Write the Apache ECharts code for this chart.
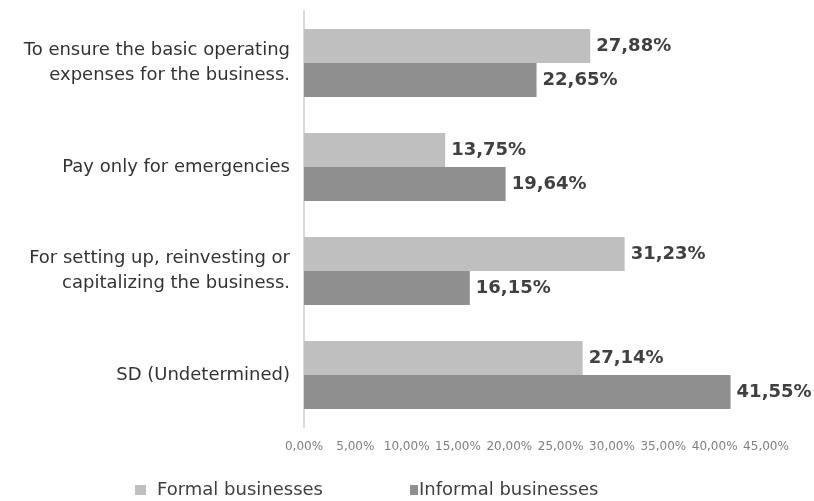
<!DOCTYPE html>
<html>
<head>
<meta charset="utf-8">
<script src="https://cdn.jsdelivr.net/npm/echarts@6/dist/echarts.min.js"></script>
<style>
  html, body { margin: 0; padding: 0; background: #fff; }
  #chart { width: 814px; height: 501px; }
</style>
</head>
<body>
<div id="chart"></div>
<script>
// Uses of the business's funds, by formality of the business (%)
const categories = [
  'To ensure the basic operating\nexpenses for the business.',
  'Pay only for emergencies',
  'For setting up, reinvesting or\ncapitalizing the business.',
  'SD (Undetermined)'
];
const formalValues = [27.88, 13.75, 31.23, 27.14];
const informalValues = [22.65, 19.64, 16.15, 41.55];
const seriesNames = ['Formal businesses', 'Informal businesses'];
const axisMax = 45;
const axisStep = 5;

const FONT = "'DejaVu Sans', 'Open Sans', sans-serif";
const pct = v => v.toFixed(2).replace('.', ',') + '%';

const chart = echarts.init(document.getElementById('chart'), null, { renderer: 'canvas' });

const valueLabel = {
  show: true,
  position: 'right',
  distance: 6,
  formatter: p => pct(p.value),
  fontFamily: FONT,
  fontWeight: 'bold',
  fontSize: 18,
  color: '#404040'
};

chart.setOption({
  animation: false,
  backgroundColor: '#ffffff',
  grid: { left: 304, top: 11, width: 462, height: 416, containLabel: false },
  legend: [
    {
      data: [seriesNames[0]],
      left: 130, top: 476,
      itemWidth: 11, itemHeight: 10, itemGap: 0,
      icon: 'rect',
      textStyle: { fontFamily: FONT, fontSize: 18, color: '#404040', padding: [0, 0, 0, 6] }
    },
    {
      data: [seriesNames[1]],
      left: 405, top: 476,
      itemWidth: 8, itemHeight: 10, itemGap: 0,
      icon: 'rect',
      textStyle: { fontFamily: FONT, fontSize: 18, color: '#404040', padding: [0, 0, 0, -4] }
    }
  ],
  xAxis: {
    type: 'value',
    min: 0,
    max: axisMax,
    interval: axisStep,
    axisLine: { show: false },
    axisTick: { show: false },
    splitLine: { show: false },
    axisLabel: {
      formatter: v => pct(v),
      fontFamily: FONT,
      fontSize: 12,
      color: '#7f7f7f',
      margin: 14
    }
  },
  yAxis: {
    type: 'category',
    inverse: true,
    data: categories,
    axisLine: { show: true, lineStyle: { color: '#d9d9d9', width: 2 } },
    axisTick: { show: false },
    axisLabel: {
      fontFamily: FONT,
      fontSize: 18,
      color: '#333333',
      align: 'right',
      margin: 14,
      lineHeight: 25
    }
  },
  series: [
    {
      name: seriesNames[0],
      type: 'bar',
      data: formalValues,
      barWidth: 34,
      barGap: '0%',
      itemStyle: { color: '#bfbfbf' },
      label: valueLabel
    },
    {
      name: seriesNames[1],
      type: 'bar',
      data: informalValues,
      barWidth: 34,
      barGap: '0%',
      itemStyle: { color: '#8f8f8f' },
      label: valueLabel
    }
  ]
});
</script>
</body>
</html>
